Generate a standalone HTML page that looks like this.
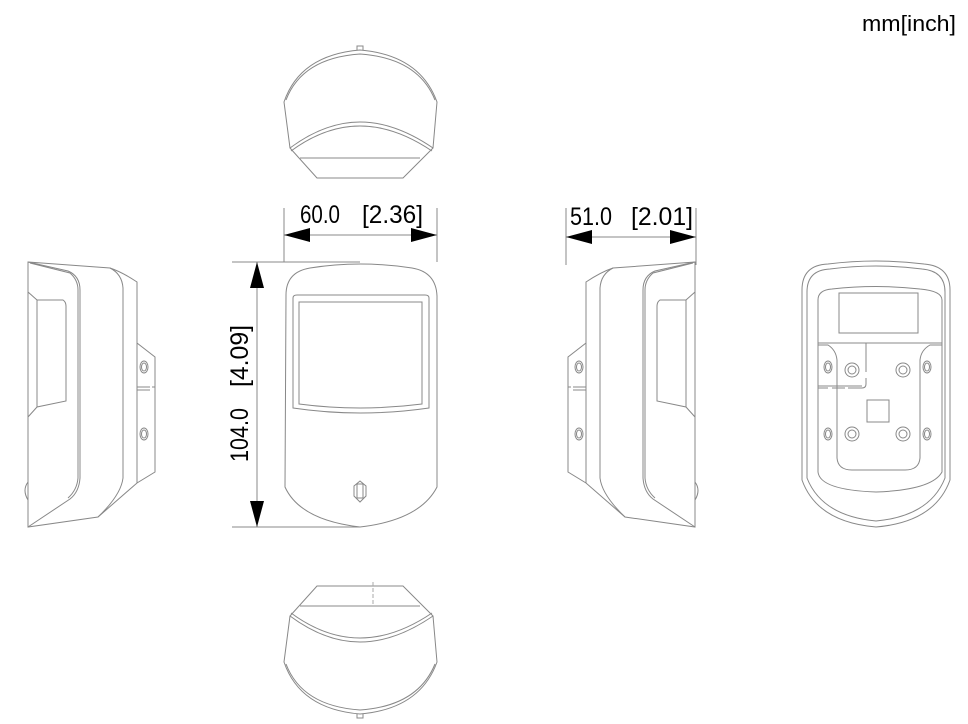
<!DOCTYPE html>
<html><head><meta charset="utf-8"><style>
html,body{margin:0;padding:0;background:#fff;}
svg{display:block;}
text{font-family:"Liberation Sans",sans-serif;fill:#000;}
</style></head><body>
<svg width="968" height="724" viewBox="0 0 968 724" xmlns="http://www.w3.org/2000/svg">
<defs>
<g id="side" fill="none" stroke="#888" stroke-width="1">
  <path d="M28,262 L110,268 Q122,272 137,282 L137,343 L155,357 L155,472 L137,483 L98,517 L28,527 Z"/>
  <path d="M28,292 L37,300 L63,300 Q66,302 66,306 L66,401 L37,407 L28,417"/>
  <path d="M37,300 L37,407"/>
  <path d="M28,262 L68,271 Q80,276 80,290 L80,478 Q79,492 70,499 L28,527"/>
  <path d="M30,263 L70,273 Q78,280 78,290 L78,478 Q77,490 68,498"/>
  <path d="M110,268 Q122,274 123,288 L123,478 Q121,495 98,517"/>
  <path d="M137,343 L137,483"/>
  <ellipse cx="144" cy="367" rx="4" ry="6"/><ellipse cx="144" cy="367" rx="2.5" ry="4"/>
  <ellipse cx="144" cy="434" rx="4" ry="6"/><ellipse cx="144" cy="434" rx="2.5" ry="4"/>
  <path d="M137,387 L150,387 M152,387 L155,387 M137,390 L150,390"/>
  <path d="M28,482 Q22,490 28,500"/>
</g>
<g id="top" fill="none" stroke="#888" stroke-width="1">
  <path d="M284,102 Q300,55 360,50 Q420,55 437,102 L433,148 L403,178 L317,178 L290,148 Z"/>
  <path d="M286,100 Q302,58 360,54 Q418,58 435,100"/>
  <path d="M290,148 Q325,122 360,122 Q395,122 433,148"/>
  <path d="M291,151 Q325,126 360,126 Q395,126 432,151"/>
  <path d="M300,158 L420,158"/>
  <path d="M357,50 L357,46 L363,46 L363,50"/>
</g>
</defs>

<text x="862" y="31" font-size="22" textLength="94" lengthAdjust="spacingAndGlyphs">mm[inch]</text>

<use href="#top"/>
<g transform="translate(0,764) scale(1,-1)"><use href="#top"/></g>
<path d="M373,582 L373,606" stroke="#aaa" stroke-dasharray="4,2" fill="none"/>

<use href="#side"/>
<g transform="translate(723,0) scale(-1,1)"><use href="#side"/></g>

<g fill="none" stroke="#888" stroke-width="1">
  <path d="M286,295 Q286,272 310,268 Q360,260 412,268 Q436,272 437,296 L437,487 Q420,520 360,527 Q300,520 285,487 Z"/>
  <path d="M293,298 Q293,295 297,295 L425,295 Q429,295 429,298 L429,408 Q360,418 293,408 Z"/>
  <path d="M299,302 L422,302 L422,404 Q360,412 299,404 Z"/>
  <path d="M360,481 L366,486 L366,496 L360,502 L354,496 L354,486 Z"/>
  <path d="M357,484 L363,484 L363,498 L357,498 Z"/>
</g>

<g stroke="#888" stroke-width="1" fill="none">
  <path d="M284,208 L284,262 M437,208 L437,262"/>
  <path d="M284,235 L437,235"/>
  <path d="M232,262 L360,262 M232,527 L360,527"/>
  <path d="M257,262 L257,527"/>
  <path d="M566,208 L566,265 M696,208 L696,265"/>
  <path d="M566,237 L696,237"/>
</g>
<g fill="#000">
  <path d="M284,235 L310,228 L310,242 Z"/><path d="M437,235 L411,228 L411,242 Z"/>
  <path d="M257,262 L250,288 L264,288 Z"/><path d="M257,527 L250,501 L264,501 Z"/>
  <path d="M566,237 L592,230 L592,244 Z"/><path d="M696,237 L670,230 L670,244 Z"/>
</g>
<text x="300" y="223" font-size="25" textLength="40" lengthAdjust="spacingAndGlyphs">60.0</text>
<text x="362" y="223" font-size="25" textLength="61" lengthAdjust="spacingAndGlyphs">[2.36]</text>
<text x="570" y="225" font-size="25" textLength="42" lengthAdjust="spacingAndGlyphs">51.0</text>
<text x="631" y="225" font-size="25" textLength="62" lengthAdjust="spacingAndGlyphs">[2.01]</text>
<text transform="translate(248,462) rotate(-90)" font-size="25" textLength="54" lengthAdjust="spacingAndGlyphs">104.0</text>
<text transform="translate(248,387) rotate(-90)" font-size="25" textLength="62" lengthAdjust="spacingAndGlyphs">[4.09]</text>

<g fill="none" stroke="#888" stroke-width="1">
  <path d="M802,290 Q802,265 828,264 Q876,258 924,264 Q950,266 950,290 L950,480 Q935,522 876,527 Q817,522 802,480 Z"/>
  <path d="M807,292 Q807,270 830,269 Q876,263 922,269 Q945,271 945,292 L945,478 Q930,516 876,521 Q822,516 807,478 Z"/>
  <path d="M818,300 Q818,290 832,289 Q876,284 920,289 Q942,291 942,300 L942,472 Q932,490 876,492 Q820,490 818,472 Z"/>
  <rect x="839" y="293" width="79" height="40"/>
  <path d="M818,343 L942,343"/>
  <path d="M818,345 L828,345 Q836,350 837,360 L837,458 Q838,470 852,470 L905,470 Q919,470 920,458 L920,360 Q921,350 930,345 L942,345"/>
  <path d="M866,343 L866,372 M866,378 L866,384 Q866,388 862,388 L848,388 M845,388 L832,388 M828,388 L818,388 M818,386 L862,386"/>
  <ellipse cx="828" cy="367" rx="4" ry="6"/><ellipse cx="828" cy="367" rx="2.5" ry="4"/>
  <ellipse cx="927" cy="367" rx="4" ry="6"/><ellipse cx="927" cy="367" rx="2.5" ry="4"/>
  <ellipse cx="828" cy="434" rx="4" ry="6"/><ellipse cx="828" cy="434" rx="2.5" ry="4"/>
  <ellipse cx="927" cy="434" rx="4" ry="6"/><ellipse cx="927" cy="434" rx="2.5" ry="4"/>
  <circle cx="852" cy="370" r="7"/><circle cx="852" cy="370" r="4"/>
  <circle cx="903" cy="370" r="7"/><circle cx="903" cy="370" r="4"/>
  <circle cx="852" cy="434" r="7"/><circle cx="852" cy="434" r="4"/>
  <circle cx="903" cy="434" r="7"/><circle cx="903" cy="434" r="4"/>
  <rect x="867" y="400" width="22" height="22"/>
</g>
</svg>
</body></html>
